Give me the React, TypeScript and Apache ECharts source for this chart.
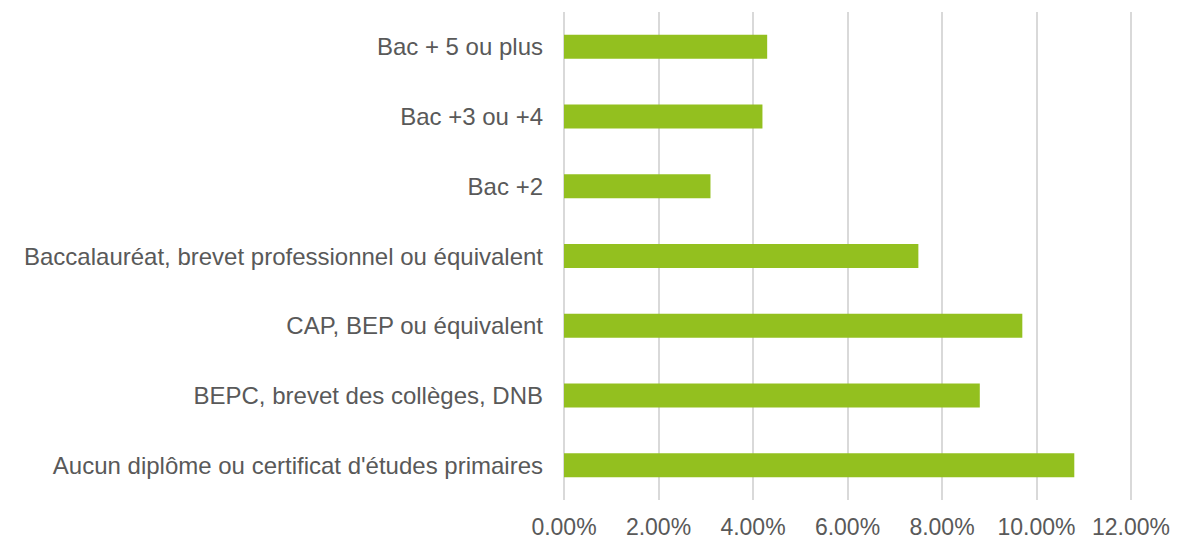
import React, { useEffect, useRef } from "react";
import * as echarts from "echarts";

const categories = [
  "Aucun diplôme ou certificat d'études primaires",
  "BEPC, brevet des collèges, DNB",
  "CAP, BEP ou équivalent",
  "Baccalauréat, brevet professionnel ou équivalent",
  "Bac +2",
  "Bac +3 ou +4",
  "Bac + 5 ou plus",
];
const values = [10.8, 8.8, 9.7, 7.5, 3.1, 4.2, 4.3];
const xTicks = { min: 0, max: 12, interval: 2 };

export default function App() {
  const ref = useRef<HTMLDivElement>(null);
  useEffect(() => {
    if (!ref.current) return;
    const chart = echarts.init(ref.current, undefined, { renderer: "svg" });
    chart.setOption({
      animation: false,
      grid: { left: 556, right: 40, top: 4, bottom: 40, containLabel: false },
      xAxis: {
        type: "value",
        min: xTicks.min,
        max: xTicks.max,
        interval: xTicks.interval,
        axisLine: { show: false },
        axisTick: { show: false },
        splitLine: { show: true, lineStyle: { color: "#d9d9d9", width: 2 } },
        axisLabel: {
          color: "#595959",
          fontFamily: "'Liberation Sans', Arial, sans-serif",
          fontSize: 23,
          margin: 15,
          formatter: (v: number) => v.toFixed(2) + "%",
        },
      },
      yAxis: {
        type: "category",
        data: categories,
        axisLine: { show: false },
        axisTick: { show: false },
        axisLabel: {
          color: "#595959",
          fontFamily: "'Liberation Sans', Arial, sans-serif",
          fontSize: 24,
          margin: 21,
        },
      },
      series: [
        {
          type: "bar",
          data: values,
          barWidth: 24,
          itemStyle: { color: "#93c01f" },
        },
      ],
    });
    return () => chart.dispose();
  }, []);
  return <div ref={ref} style={{ width: 1165, height: 532 }} />;
}
